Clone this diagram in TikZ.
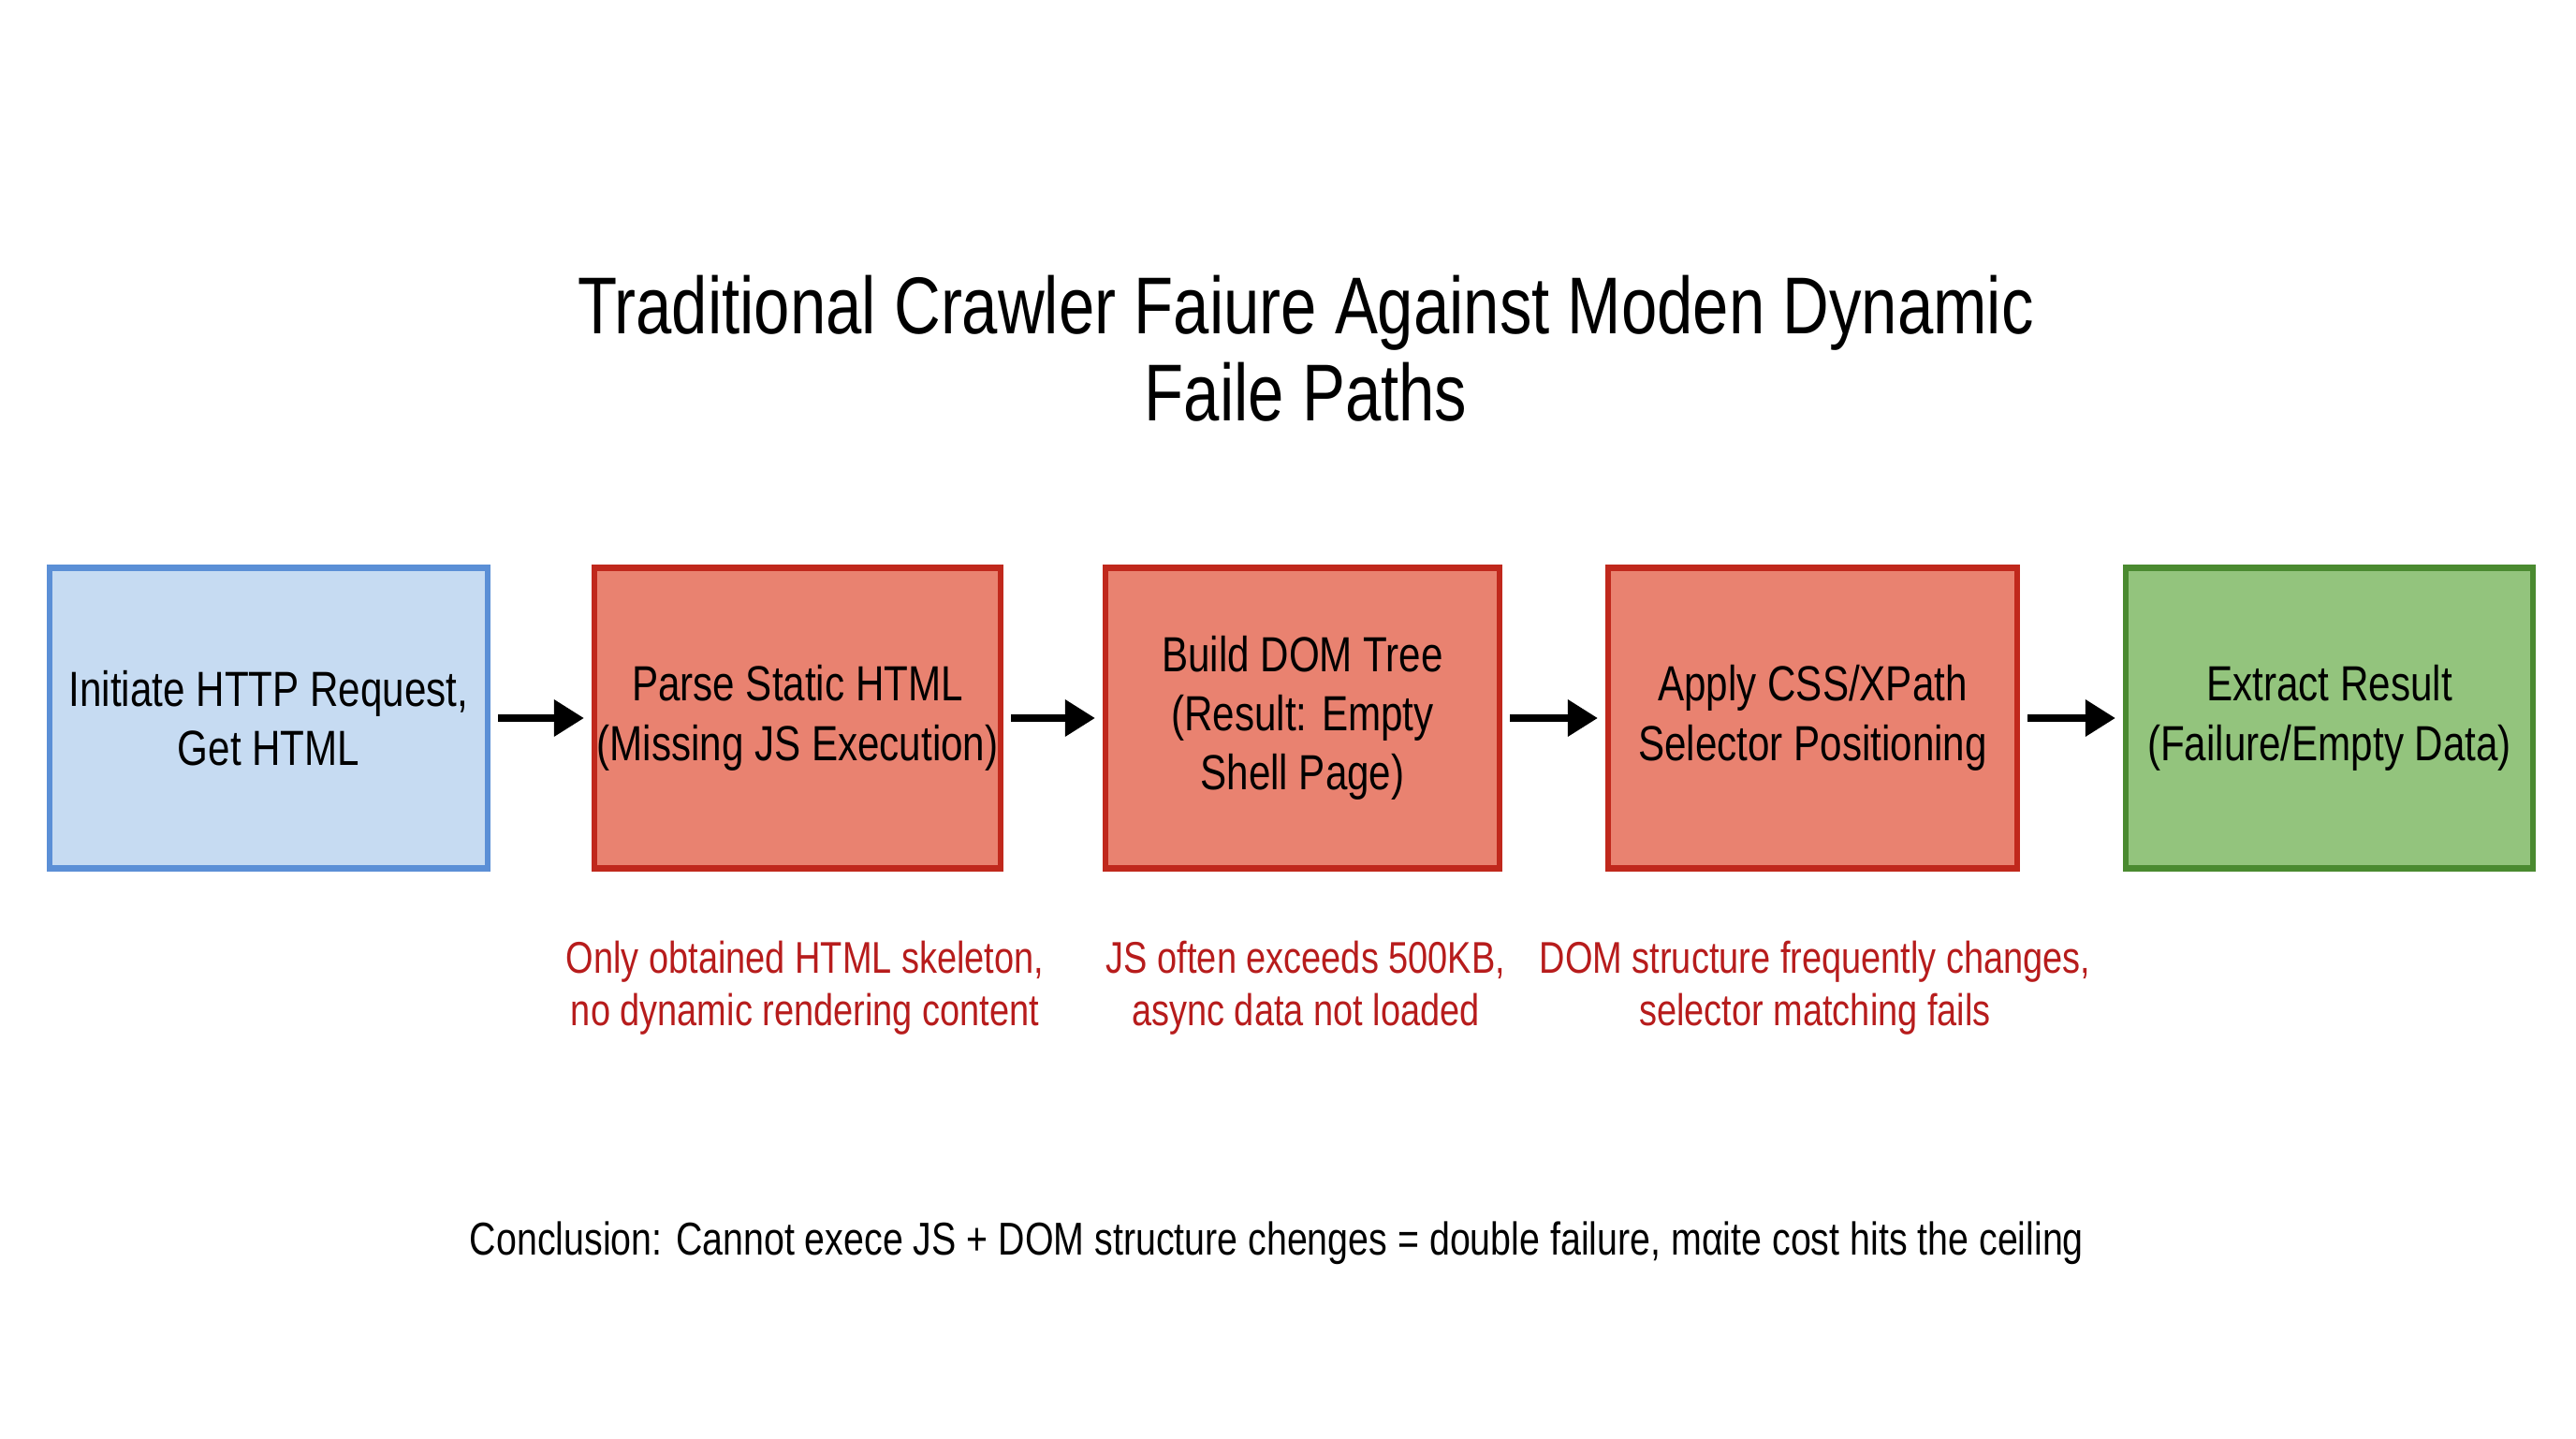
\documentclass[tikz,border=0pt]{standalone}
\usepackage{fontspec}
\setmainfont{Liberation Sans}[FakeStretch=0.8]
\usetikzlibrary{arrows.meta}
\definecolor{bluefill}{HTML}{C6DBF2}
\definecolor{blueline}{HTML}{5B8FD6}
\definecolor{redfill}{HTML}{E98270}
\definecolor{redline}{HTML}{C0281C}
\definecolor{greenfill}{HTML}{93C47D}
\definecolor{greenline}{HTML}{4A8A30}
\definecolor{notered}{HTML}{B71C1C}
\tikzset{
  stepbox/.style={draw, line width=1.8pt, minimum height=3.21cm, align=center,
    inner sep=0pt, font=\fontsize{15}{18}\selectfont},
  bluebox/.style={stepbox, fill=bluefill, draw=blueline},
  redbox/.style={stepbox, fill=redfill, draw=redline},
  greenbox/.style={stepbox, fill=greenfill, draw=greenline},
  flow/.style={line width=2pt, -{Triangle[length=0.32cm, width=0.38cm]}, shorten <=0.08cm, shorten >=0.08cm},
  note/.style={align=center, text=notered, font=\fontsize{13.5}{16}\selectfont},
}
\begin{document}
\begin{tikzpicture}
\useasboundingbox (0,0) rectangle (27.52,15.36);
\fill[white] (0,0) rectangle (27.52,15.36);
\node[align=center, font=\fontsize{24.5}{26.5}\selectfont] (title) at (13.95,11.64)
  {Traditional Crawler Faiure Against Moden Dynamic\\Faile Paths};
\node[bluebox, minimum width=4.68cm] (b1) at (2.87,7.69) {Initiate HTTP Request,\\Get HTML};
\node[redbox, minimum width=4.34cm] (b2) at (8.52,7.69) {Parse Static HTML\\(Missing JS Execution)};
\node[redbox, minimum width=4.21cm] (b3) at (13.915,7.69) {Build DOM Tree\\(Result: Empty\\Shell Page)};
\node[redbox, minimum width=4.37cm] (b4) at (19.365,7.69) {Apply CSS/XPath\\Selector Positioning};
\node[greenbox, minimum width=4.35cm] (b5) at (24.885,7.69) {Extract Result\\(Failure/Empty Data)};
\draw[flow] (b1) -- (b2);
\draw[flow] (b2) -- (b3);
\draw[flow] (b3) -- (b4);
\draw[flow] (b4) -- (b5);
\node[note] (n2) at (8.60,4.81) {Only obtained HTML skeleton,\\no dynamic rendering content};
\node[note] (n3) at (13.95,4.81) {JS often exceeds 500KB,\\async data not loaded};
\node[note] (n4) at (19.39,4.81) {DOM structure frequently changes,\\selector matching fails};
\node[font=\fontsize{14}{16}\selectfont] (concl) at (13.64,2.08)
  {Conclusion: Cannot exece JS + DOM structure chenges = double failure, mαite cost hits the ceiling};
\end{tikzpicture}
\end{document}
